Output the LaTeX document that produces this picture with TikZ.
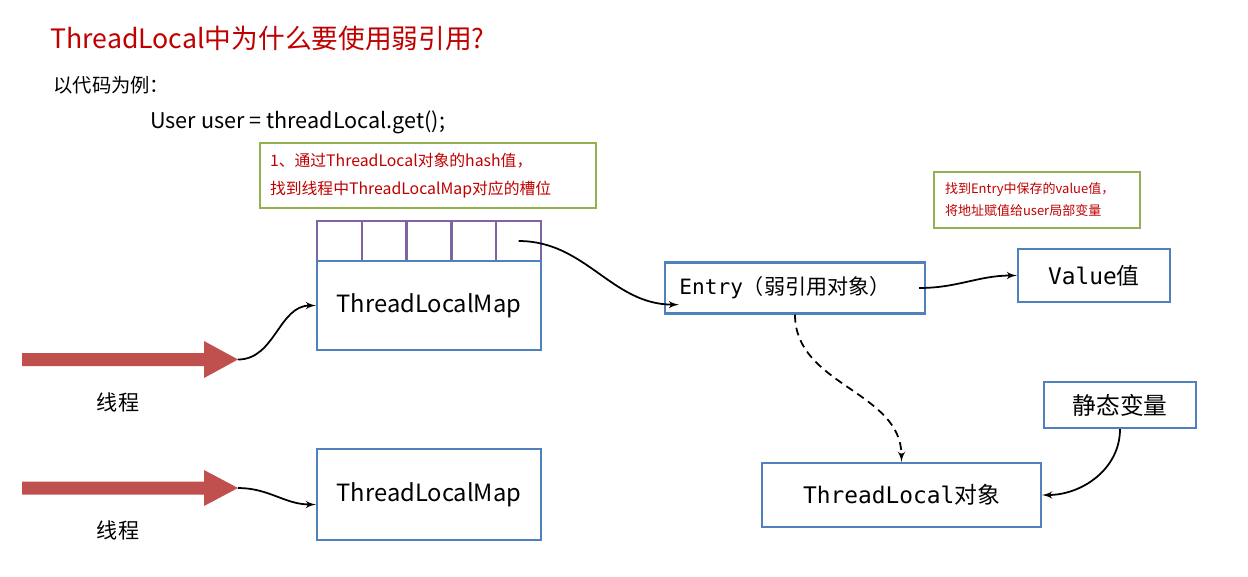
\documentclass[tikz,border=0pt]{standalone}
\usepackage{fontspec}
\setmainfont{Noto Sans CJK SC}
\newfontfamily\cjkfont{Noto Sans CJK SC}
\newfontfamily\codefont{DejaVu Sans Mono}
\usetikzlibrary{arrows,positioning}
\definecolor{boxblue}{RGB}{79,129,189}
\definecolor{slotpurple}{RGB}{128,100,162}
\definecolor{notegreen}{RGB}{146,178,80}
\definecolor{threadred}{RGB}{192,80,77}
\definecolor{titlered}{RGB}{192,0,0}

\begin{document}
\begin{tikzpicture}[x=0.02cm, y=-0.02cm,
block/.style = {draw=boxblue, line width=1.3pt, fill=white, rectangle, inner sep=0pt},
slot/.style = {draw=slotpurple, line width=1.3pt, rectangle, minimum width=0.896cm, minimum height=0.8cm, inner sep=0pt},
note/.style = {draw=notegreen, line width=1.3pt, align=left, text=titlered, inner sep=0pt},
txt/.style = {anchor=west, inner sep=0pt},
link/.style = {->, line width=1pt},
node distance = 0.896cm,
>=latex'
]
\useasboundingbox (0,0) rectangle (1248,576);
\fill [white] (0,0) rectangle (1248,576);

    % heading and code line
    \node [txt, text=titlered, font=\fontsize{15.2}{18}\selectfont] (title) at (50,38) {ThreadLocal中为什么要使用弱引用?};
    \node [txt, font=\fontsize{11}{13}\selectfont] (intro) at (53,85) {以代码为例：};
    \node [txt, font=\fontsize{12.3}{14}\selectfont] (code) at (150,122) {User user = threadLocal.get();};

    % notes
    \node [note, minimum width=6.72cm, minimum height=1.3cm, text width=6.32cm, font=\fontsize{9}{15.9}\selectfont] (hint1) at (428,175.5) {1、通过ThreadLocal对象的hash值，\\找到线程中ThreadLocalMap对应的槽位};
    \node [note, minimum width=4.12cm, minimum height=1.12cm, text width=3.68cm, font=\fontsize{7.4}{12.5}\selectfont] (hint2) at (1037,200) {找到Entry中保存的value值，\\将地址赋值给user局部变量};

    % slots of the map
    \node [slot] (slot1) at (339.4,241) {};
    \node [slot, right of=slot1] (slot2) {};
    \node [slot, right of=slot2] (slot3) {};
    \node [slot, right of=slot3] (slot4) {};
    \node [slot, right of=slot4] (slot5) {};

    \node [block, minimum width=4.48cm, minimum height=1.78cm, font=\fontsize{13.5}{16}\selectfont] (map1) at (429,305.5) {ThreadLocalMap};
    \node [block, minimum width=4.48cm, minimum height=1.82cm, font=\fontsize{13.5}{16}\selectfont] (map2) at (429,494.5) {ThreadLocalMap};

    \node [block, minimum width=5.2cm, minimum height=1.02cm, font=\fontsize{12}{15}\selectfont] (entry) at (795,288) {{\codefont Entry}{\cjkfont （弱引用对象）}\hspace*{0.4cm}};
    \node [block, minimum width=3.04cm, minimum height=1.06cm, font=\fontsize{13}{15}\selectfont] (value) at (1094,275.5) {{\codefont Value}{\cjkfont 值}};
    \node [block, minimum width=3.04cm, minimum height=0.92cm, font=\fontsize{13.5}{16}\selectfont] (var) at (1120,405) {静态变量};
    \node [block, minimum width=5.58cm, minimum height=1.28cm, font=\fontsize{13}{15}\selectfont] (obj) at (901.5,495) {{\codefont ThreadLocal}{\cjkfont 对象}};

    % threads
    \fill [threadred] (22,353) -- (204,353) -- (204,341) -- (238,359.5) -- (204,378) -- (204,366) -- (22,366) -- cycle;
    \coordinate (tip1) at (238,359.5);
    \node [font=\fontsize{12}{14}\selectfont] (thread1) at (118,402) {线程};

    \fill [threadred] (22,481.5) -- (204,481.5) -- (204,470) -- (238,488) -- (204,506) -- (204,494.5) -- (22,494.5) -- cycle;
    \coordinate (tip2) at (238,488);
    \node [font=\fontsize{12}{14}\selectfont] (thread2) at (118,530) {线程};

    \draw [link] (tip1) to [out=0,in=180] (map1.west);
    \draw [link] (tip2) to [out=0,in=180] ([yshift=-0.2cm]map2.west);
    \draw [link] (slot5.center) to [out=0,in=180] ([shift={(15,-10)}]entry.south west);
    \draw [link] ([xshift=-0.14cm]entry.east) to [out=0,in=180] (value.west);
    \draw [link, dash pattern=on 4.5pt off 3pt] (entry.south) to [out=-90,in=90] (obj.north);
    \draw [link] (var.south) to [out=-90,in=0] (obj.east);

\end{tikzpicture}
\end{document}
